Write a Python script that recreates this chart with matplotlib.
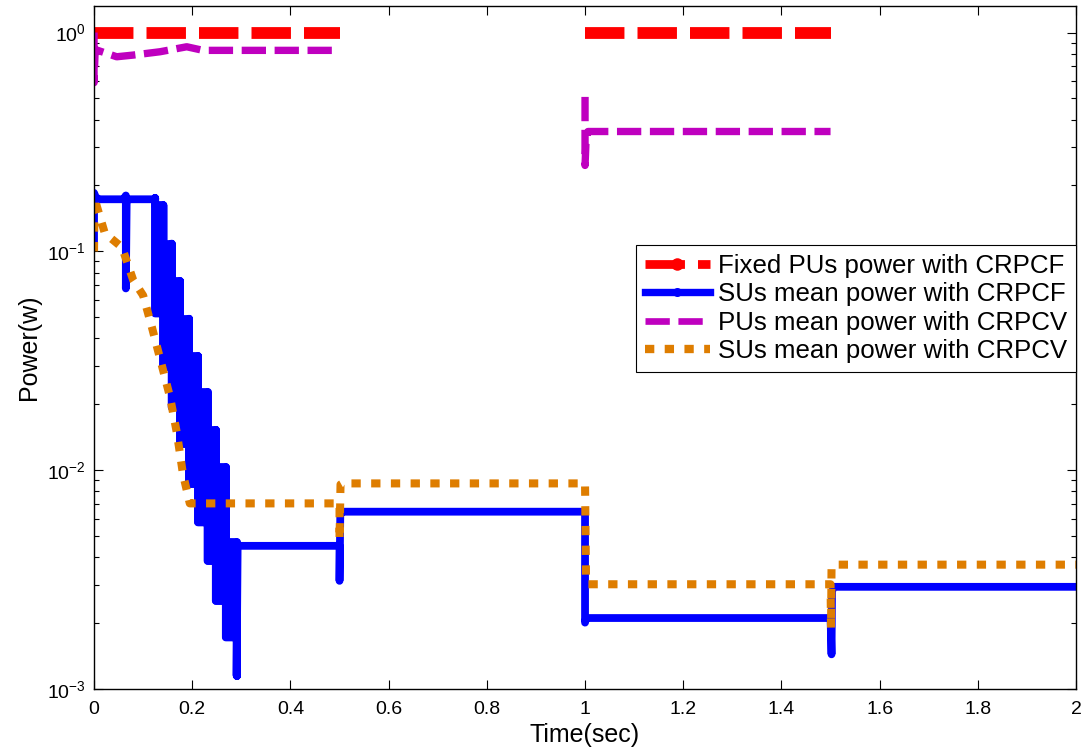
import numpy as np
import matplotlib
matplotlib.use("Agg")
import matplotlib.pyplot as plt
from matplotlib.lines import Line2D
from matplotlib.ticker import NullFormatter

plt.rcParams['font.family'] = ['Liberation Sans', 'DejaVu Sans']
plt.rcParams['mathtext.fontset'] = 'custom'
plt.rcParams['mathtext.rm'] = 'Liberation Sans'
plt.rcParams['mathtext.it'] = 'Liberation Sans:italic'
plt.rcParams['mathtext.bf'] = 'Liberation Sans:bold'
plt.rcParams['lines.scale_dashes'] = False

# ---------------- data ----------------
x_ticks = [0, 0.2, 0.4, 0.6, 0.8, 1.0, 1.2, 1.4, 1.6, 1.8, 2.0]
x_tick_labels = ["0", "0.2", "0.4", "0.6", "0.8", "1", "1.2", "1.4", "1.6", "1.8", "2"]

# Fixed PUs power with CRPCF (red)
fixed_pu_t1 = [0.0, 0.5]
fixed_pu_p1 = [1.0, 1.0]
fixed_pu_t2 = [1.0, 1.5]
fixed_pu_p2 = [1.0, 1.0]

# SUs mean power with CRPCF (blue)
su_f_t_start = [0.0, 0.0, 0.004, 0.012, 0.060, 0.0648, 0.0648, 0.0665, 0.070, 0.1246]
su_f_p_start = [0.110, 0.185, 0.176, 0.173, 0.173, 0.180, 0.0677, 0.173, 0.173, 0.173]
# oscillation columns (centre time, upper value, lower value)
su_f_col_t = [0.1246, 0.1413, 0.1581, 0.1752, 0.1935, 0.2118, 0.2312, 0.2480, 0.2684, 0.2904]
su_f_col_top = [0.175, 0.1625, 0.1084, 0.0731, 0.0492, 0.0332, 0.0227, 0.01528, 0.01031, 0.00468]
su_f_col_bot = [0.0520, 0.02955, 0.01938, 0.01318, 0.00865, 0.00577, 0.00385, 0.00253, 0.00172, 0.00115]
su_f_t_end = [0.2925, 0.5, 0.5, 0.5015, 0.504, 1.0, 1.0, 1.002, 1.5, 1.502, 1.503, 1.507, 2.0]
su_f_p_end = [0.00451, 0.00451, 0.00312, 0.0062, 0.00646, 0.00646, 0.00201, 0.00211, 0.00211,
              0.00144, 0.0028, 0.00293, 0.00293]

# PUs mean power with CRPCV (magenta)
pu_v_t1 = [0.0, 0.0, 0.002, 0.0055, 0.0462, 0.080, 0.1344, 0.1888, 0.222, 0.5]
pu_v_p1 = [1.0, 0.59, 0.80, 0.832, 0.775, 0.789, 0.817, 0.861, 0.829, 0.829]
pu_v_t2 = [1.0, 1.0, 1.002, 1.006, 1.5]
pu_v_p2 = [0.508, 0.247, 0.32, 0.353, 0.353]

# SUs mean power with CRPCV (orange)
su_v_t = [0.0, 0.001, 0.006, 0.022, 0.057, 0.080, 0.100, 0.118, 0.134, 0.155, 0.169, 0.181,
          0.195, 0.5, 0.5, 0.502, 0.506, 0.998, 1.0, 1.002, 1.006, 1.5, 1.501, 1.502, 1.506, 2.0]
su_v_p = [0.100, 0.175, 0.160, 0.121, 0.1043, 0.0737, 0.0629, 0.0449, 0.0327, 0.0215, 0.01469,
          0.00964, 0.00705, 0.00705, 0.0048, 0.0086, 0.0087, 0.0087, 0.0087, 0.0032, 0.00301,
          0.00301, 0.0019, 0.0036, 0.0037, 0.0037]

labels = ["Fixed PUs power with CRPCF", "SUs mean power with CRPCF",
          "PUs mean power with CRPCV", "SUs mean power with CRPCV"]

RED = '#FF0000'
BLUE = '#0000FF'
MAG = '#BF00BF'
ORG = '#DE7D00'

# blue line path (start, columns, tail)
bt = list(su_f_t_start)
bp = list(su_f_p_start)
for k in range(len(su_f_col_t)):
    if k > 0:
        bt.append(su_f_col_t[k]); bp.append(su_f_col_bot[k - 1])
    bt.append(su_f_col_t[k]); bp.append(su_f_col_top[k])
    bt.append(su_f_col_t[k]); bp.append(su_f_col_bot[k])
bt += su_f_t_end
bp += su_f_p_end

# blue oscillation band (region swept by the fast oscillation)
n = len(su_f_col_t)
band_x = [su_f_col_t[0]]
band_y = [su_f_col_top[0]]
for k in range(1, n):
    band_x += [su_f_col_t[k - 1], su_f_col_t[k]]
    band_y += [su_f_col_top[k], su_f_col_top[k]]
low_x, low_y = [], []
for k in range(n):
    low_x.append(su_f_col_t[k]); low_y.append(su_f_col_bot[k])
    if k < n - 1:
        low_x.append(su_f_col_t[k + 1]); low_y.append(su_f_col_bot[k])
band_x += low_x[::-1]
band_y += low_y[::-1]

fig = plt.figure(figsize=(10.92, 7.52), dpi=100)
ax = fig.add_axes([0.0861, 0.0838, 0.8993, 0.9082])

red_kw = dict(color=RED, lw=8.5, dashes=(28.4, 9.4), dash_capstyle='butt')
ax.plot(fixed_pu_t1, fixed_pu_p1, **red_kw)
ax.plot(fixed_pu_t2, fixed_pu_p2, **red_kw)

ax.fill(band_x, band_y, facecolor=BLUE, edgecolor=BLUE, lw=5.6, joinstyle='round')
ax.plot(bt, bp, color=BLUE, lw=5.6, solid_capstyle='round', solid_joinstyle='round')

mag_kw = dict(color=MAG, lw=5.3, dashes=(17.5, 6.2), dash_capstyle='butt', dash_joinstyle='round')
ax.plot(pu_v_t1, pu_v_p1, **mag_kw)
ax.plot(pu_v_t2, pu_v_p2, **mag_kw)

ax.plot(su_v_t, su_v_p, color=ORG, lw=5.8, dashes=(6.7, 7.5), dash_capstyle='butt',
        dash_joinstyle='round')

ax.set_yscale('log')
ax.set_xlim(0, 2)
ax.set_ylim(1e-3, 1.322)
ax.set_xticks(x_ticks, x_tick_labels)
ax.yaxis.set_minor_formatter(NullFormatter())
ax.tick_params(which='both', direction='in', top=True, right=True, width=0.8, colors='black')
ax.tick_params(which='major', length=6.5, labelsize=14)
ax.tick_params(axis='x', which='major', pad=9)
ax.tick_params(axis='y', which='major', pad=6)
ax.tick_params(which='minor', length=3.5)
for s in ax.spines.values():
    s.set_linewidth(1.0)
    s.set_color('black')

ax.set_xlabel('Time(sec)', fontsize=18, labelpad=3)
ax.set_ylabel('Power(w)', fontsize=18, labelpad=4)

handles = [
    Line2D([], [], color=RED, lw=6.3, dashes=(28.4, 9.4), dash_capstyle='butt',
           marker='o', markersize=9, markeredgewidth=0),
    Line2D([], [], color=BLUE, lw=5.3, marker='o', markersize=6.5, markeredgewidth=0),
    Line2D([], [], color=MAG, lw=4.8, dashes=(17.5, 6.2), dash_capstyle='butt'),
    Line2D([], [], color=ORG, lw=6.0, dashes=(6.7, 7.5), dash_capstyle='butt'),
]
leg = ax.legend(handles, labels, loc='upper right', bbox_to_anchor=(1.0, 0.650),
                borderaxespad=0, fontsize=18.6, handlelength=2.52, handletextpad=0.31,
                borderpad=0.35, labelspacing=0.165, frameon=True, fancybox=False,
                framealpha=1, numpoints=1)
leg.get_frame().set_edgecolor('black')
leg.get_frame().set_linewidth(0.8)

fig.savefig('out.png', dpi=100)
